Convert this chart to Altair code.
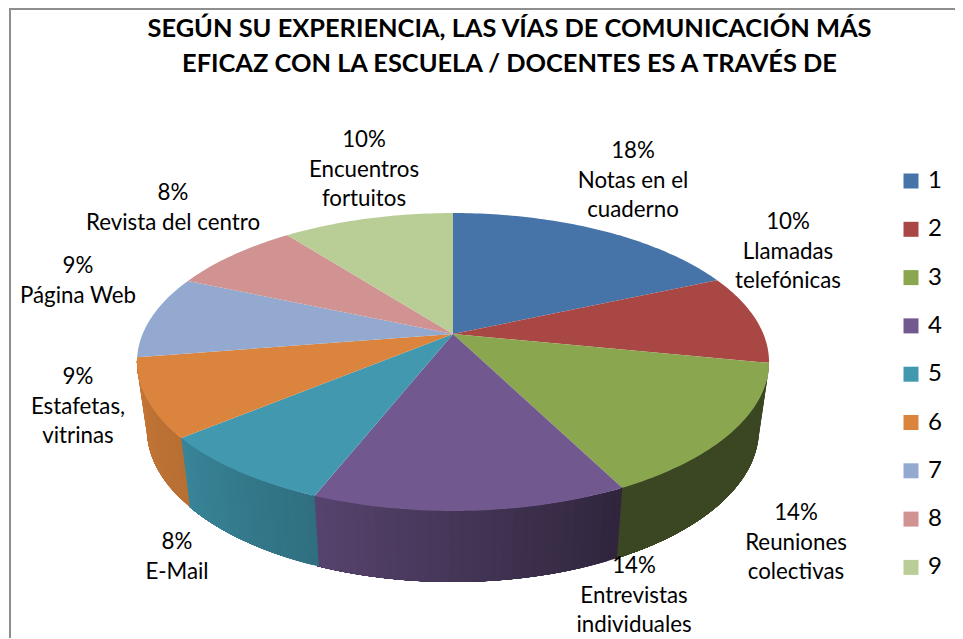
import numpy as np
import pandas as pd
import altair as alt

# Data
categories = ["1", "2", "3", "4", "5", "6", "7", "8", "9"]
shares = [18.4, 9.7, 14.4, 13.5, 8.0, 8.5, 9.0, 8.0, 10.5]
pct_labels = ["18%", "10%", "14%", "14%", "8%", "9%", "9%", "8%", "10%"]
names = [
    ["Notas en el", "cuaderno"],
    ["Llamadas", "telefónicas"],
    ["Reuniones", "colectivas"],
    ["Entrevistas", "individuales"],
    ["E-Mail"],
    ["Estafetas,", "vitrinas"],
    ["Página Web"],
    ["Revista del centro"],
    ["Encuentros", "fortuitos"],
]
title_lines = [
    "SEGÚN SU EXPERIENCIA, LAS VÍAS DE COMUNICACIÓN MÁS",
    "EFICAZ CON LA ESCUELA / DOCENTES ES A TRAVÉS DE",
]

# Styles and layout
colors = ["#4674A9", "#A94744", "#8AA64F", "#71588F", "#4198AF",
          "#DB843D", "#93A9CF", "#D19392", "#B9CD96"]
wall_shade = {2: (0.43, 0.43), 3: (0.42, 0.77), 4: (0.73, 0.87), 5: (0.84, 0.90)}
label_anchor = [(633, 151), (788, 222), (796, 513), (634, 566), (177, 542),
                (78, 377), (78, 266), (173, 193), (364, 140)]
line_step = 29.5
FONT = "Lato"
W, H = 947, 630

K = 0.188
TOP = dict(x0=453.0, y0=334.0, a=310.4, b=143.7)
BOT = dict(x0=453.0, y0=400.2, a=300.6, b=147.6)


def project(theta_deg, p):
    t = np.radians(theta_deg)
    u, v = np.sin(t), np.cos(t)
    d = 1 + K * v
    return p["x0"] + p["a"] * u / d, p["y0"] - p["b"] * v / d


def shade(hex_color, f):
    rgb = [int(hex_color[i:i + 2], 16) for i in (1, 3, 5)]
    return "#" + "".join(f"{int(round(c * f)):02x}" for c in rgb)


edges = np.cumsum([0] + shares) / sum(shares) * 360

# Side wall: each strip runs on to the slice's far end and the next one paints
# over it, so that no seams show between the shades.
wall_rows = []
sid = 0
for idx, (f0, f1) in wall_shade.items():
    a0, a1 = edges[idx], edges[idx + 1]
    far = a1 + 0.3 if idx < 5 else a1
    n = 30
    for j in range(n):
        t0 = a0 + (a1 - a0) * j / n
        col = shade(colors[idx], f0 + (f1 - f0) * (j + 0.5) / n)
        arc = np.append(np.arange(t0, far, 1.0), far)
        pts = [project(t, TOP) for t in arc] + [project(t, BOT) for t in arc[::-1]]
        for i, (x, y) in enumerate(pts):
            wall_rows.append(dict(sid=sid, i=i, x=x, y=y, col=col))
        sid += 1
wall_df = pd.DataFrame(wall_rows)

# Top face slices
top_rows = []
for k, cat in enumerate(categories):
    thetas = np.arange(edges[k], edges[k + 1], 1.0).tolist() + [edges[k + 1]]
    top_rows.append(dict(cat=cat, i=0, x=TOP["x0"], y=TOP["y0"]))
    for i, t in enumerate(thetas):
        x, y = project(t, TOP)
        top_rows.append(dict(cat=cat, i=i + 1, x=x, y=y))
top_df = pd.DataFrame(top_rows)

# Labels
label_rows = []
for pct, nm, (lx, ly) in zip(pct_labels, names, label_anchor):
    for j, txt in enumerate([pct] + nm):
        label_rows.append(dict(x=lx, y=ly + j * line_step, txt=txt))
label_df = pd.DataFrame(label_rows)

frame_df = pd.DataFrame([
    dict(x=10, x2=10, y=8, y2=8 + H),
    dict(x=10, x2=8 + W, y=9, y2=9),
])

xs = alt.Scale(domain=[8, 8 + W], range=[0, W], nice=False, zero=False)
ys = alt.Scale(domain=[8, 8 + H], range=[0, H], nice=False, zero=False)
X = alt.X("x:Q", scale=xs, axis=None)
Y = alt.Y("y:Q", scale=ys, axis=None)

frame = alt.Chart(frame_df).mark_rule(color="#8e8e8e", strokeWidth=2).encode(
    x=X, y=Y, x2="x2:Q", y2="y2:Q")

wall = alt.Chart(wall_df).mark_line(strokeOpacity=0).encode(
    x=X, y=Y, order="i:Q", detail="sid:N",
    fill=alt.Fill("col:N", scale=None, legend=None),
)

top = alt.Chart(top_df).mark_line(strokeOpacity=0).encode(
    x=X, y=Y, order="i:Q",
    fill=alt.Fill(
        "cat:N",
        scale=alt.Scale(domain=categories, range=colors),
        legend=alt.Legend(
            title=None, orient="none", legendX=891, legendY=161,
            symbolType="square", symbolSize=225, symbolStrokeWidth=0,
            labelFont=FONT, labelFontSize=24, labelColor="#000000",
            rowPadding=24.3, labelOffset=5, symbolOpacity=1,
            symbolFillColor="#000000",
        ),
    ),
)

labels = alt.Chart(label_df).mark_text(
    font=FONT, fontSize=22.3, color="#000000", baseline="middle", align="center"
).encode(x=X, y=Y, text="txt:N")

chart = (
    alt.layer(frame, wall, top, labels)
    .resolve_scale(fill="independent")
    .properties(
        width=W, height=H, padding=0,
        autosize=alt.AutoSizeParams(type="none"),
        background="#ffffff",
        title=alt.Title(
            text=title_lines, anchor="middle", frame="group", dx=28, dy=74,
            font=FONT, fontSize=25.4, fontWeight="bold", color="#000000",
            lineHeight=34.5, baseline="top",
        ),
    )
    .configure_view(stroke=None)
)

chart.save("out.html", embed_options={"renderer": "svg", "actions": False})
